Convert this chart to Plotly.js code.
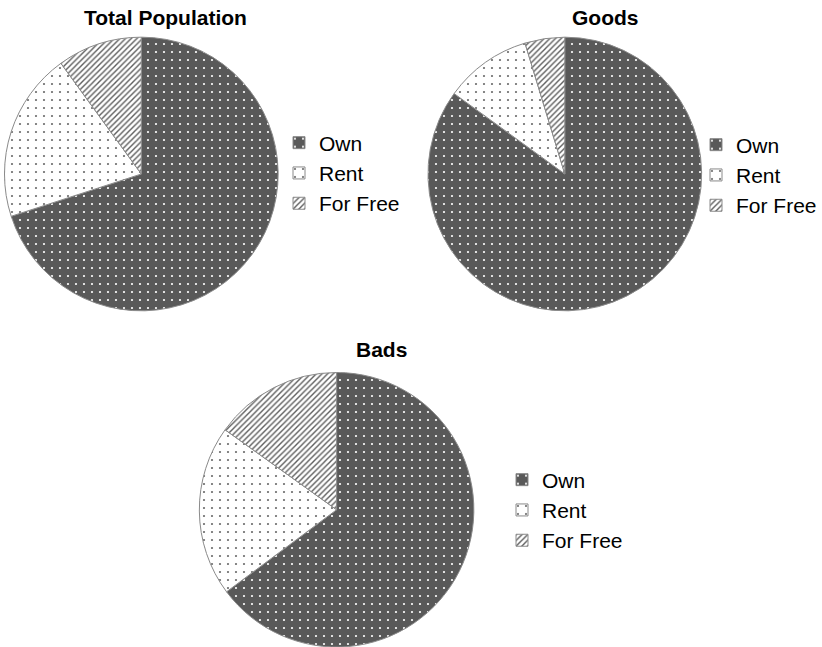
<!DOCTYPE html>
<html>
<head>
<meta charset="utf-8">
<script src="https://cdn.plot.ly/plotly-3.0.1.min.js"></script>
<style>html,body{margin:0;padding:0;background:#fff;}#chart{width:822px;height:647px;}</style>
</head>
<body>
<div id="chart"></div>
<script>
// Data (percent shares)
const categories = ['Own', 'Rent', 'For Free'];
const totalPopulation = [70, 20, 10];
const goods = [85, 10.3, 4.7];
const bads = [64.8, 20.1, 15.1];
const chartTitles = ['Total Population', 'Goods', 'Bads'];

const W = 822, H = 647;
const FONT = 'Liberation Sans, Arial, Helvetica, sans-serif';

const sliceColors = ['#595959', '#ffffff', '#ffffff'];
const pattern = {
  shape: ['.', '.', '/'],
  bgcolor: ['#595959', '#ffffff', '#ffffff'],
  fgcolor: ['#ffffff', '#6a6a6a', '#5e5e5e'],
  size: [8, 8, 4],
  solidity: [0.06, 0.06, 0.35],
  fillmode: 'replace'
};

function px(x0, x1) { return [x0 / W, x1 / W]; }
function py(top, bottom) { return [Math.max(0, 1 - bottom / H), 1 - top / H]; }

// zero-width spaces keep each chart's legend entries separate (same visible text)
function labelsFor(k) { return categories.map(c => c + '\u200B'.repeat(k)); }

function pie(values, domain, legendId, k) {
  return {
    type: 'pie',
    labels: labelsFor(k),
    values: values,
    sort: false,
    direction: 'clockwise',
    rotation: 0,
    textinfo: 'none',
    hoverinfo: 'label+value',
    domain: domain,
    legend: legendId,
    marker: {
      colors: sliceColors,
      line: { color: '#8a8a8a', width: 1 },
      pattern: pattern
    }
  };
}

const data = [
  pie(totalPopulation, { x: px(4.5, 278.5), y: py(37, 311) }, 'legend', 0),
  pie(goods, { x: px(428.5, 702.5), y: py(37, 311) }, 'legend2', 1),
  pie(bads, { x: px(199.5, 474.5), y: py(372.5, 647.5) }, 'legend3', 2)
];

function legendAt(leftPx, topPx) {
  return {
    x: leftPx / W, y: 1 - topPx / H, xanchor: 'left', yanchor: 'top',
    font: { family: FONT, size: 21, color: '#000' },
    bgcolor: 'rgba(0,0,0,0)', borderwidth: 0, traceorder: 'normal'
  };
}

function titleAnn(text, cx, cy) {
  return {
    text: '<b>' + text + '</b>', showarrow: false,
    xref: 'paper', yref: 'paper', x: cx / W, y: 1 - cy / H,
    xanchor: 'center', yanchor: 'middle',
    font: { family: FONT, size: 21, color: '#000' }
  };
}

const layout = {
  width: W, height: H,
  margin: { l: 0, r: 0, t: 0, b: 0 },
  paper_bgcolor: '#ffffff',
  plot_bgcolor: '#ffffff',
  font: { family: FONT },
  showlegend: true,
  legend: legendAt(279, 122.5),
  legend2: legendAt(697, 124.5),
  legend3: legendAt(502, 459.5),
  annotations: [
    titleAnn(chartTitles[0], 165.5, 18),
    titleAnn(chartTitles[1], 606.5, 18),
    titleAnn(chartTitles[2], 382, 349)
  ]
};

Plotly.newPlot('chart', data, layout, { displayModeBar: false, staticPlot: true });
</script>
</body>
</html>
